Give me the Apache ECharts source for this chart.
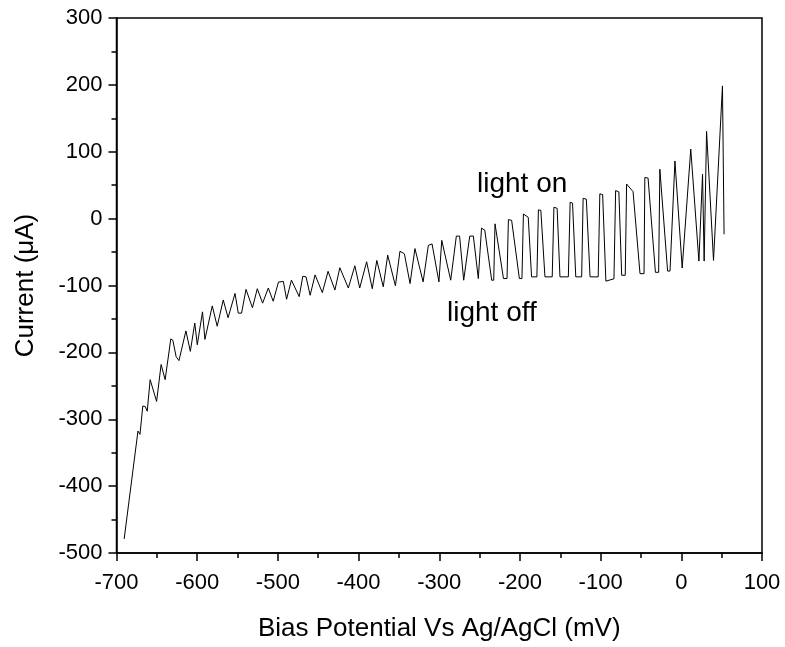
<!DOCTYPE html>
<html>
<head>
<meta charset="utf-8">
<script src="https://cdn.jsdelivr.net/npm/echarts@6/dist/echarts.min.js"></script>
<style>
html,body{margin:0;padding:0;background:#fff;}
#chart{width:785px;height:647px;}
</style>
</head>
<body>
<div id="chart"></div>
<script>
// bias potential (mV) and photocurrent (uA)
var potential = [
  -690.5, -673.4, -670.9, -667.4, -664.4, -661.9, -658.3, -650.3, -644.7, -639.7,
  -632.7, -630.2, -626.1, -622.6, -614.0, -608.5, -603.0, -599.9, -593.4, -590.4,
  -581.3, -575.2, -567.7, -561.7, -553.1, -549.1, -545.0, -539.5, -531.5, -525.5,
  -518.9, -511.9, -505.8, -499.3, -493.2, -489.2, -483.2, -473.6, -469.1, -465.1,
  -460.0, -453.9, -444.9, -437.8, -429.3, -423.2, -412.7, -404.6, -398.6, -390.0,
  -383.0, -377.4, -369.4, -363.9, -354.3, -348.7, -343.2, -336.2, -330.1, -320.0,
  -313.5, -308.9, -300.4, -296.9, -285.8, -278.8, -274.8, -269.7, -262.2, -257.7,
  -251.6, -247.6, -243.6, -235.0, -232.5, -230.9, -220.4, -216.0, -214.3, -210.3,
  -200.7, -197.5, -195.7, -189.7, -185.6, -179.0, -177.1, -174.1, -169.0, -160.0,
  -157.9, -153.9, -150.4, -140.0, -137.8, -134.8, -130.8, -123.5, -121.7, -117.7,
  -113.1, -103.0, -101.0, -97.5, -93.5, -83.5, -81.4, -77.4, -73.9, -69.5,
  -67.8, -59.8, -51.2, -46.2, -45.2, -41.2, -32.1, -28.1, -26.6, -17.0,
  -14.0, -7.9, 1.1, 11.7, 21.8, 26.3, 28.3, 31.3, 39.9, 41.4,
  51.0, 53.0
];
var current = [
  -479, -317.7, -322.6, -280.2, -281, -288, -240.8, -273.3, -218.2, -240.8,
  -179.8, -181.8, -206.4, -212.3, -167.9, -198.5, -156.1, -188.6, -139.4, -180.6,
  -130.5, -160.9, -121.6, -148.2, -111.8, -141.3, -141.3, -105.8, -133.3, -104.8,
  -126.4, -103.8, -123.5, -94.9, -93.9, -120.6, -91.9, -116.6, -86.1, -87.1,
  -114.6, -84.2, -110.7, -78.8, -106.8, -73.4, -103.8, -70.5, -103.8, -64.5,
  -104.8, -62.5, -101.9, -54.6, -100.4, -48.7, -52.6, -97.1, -44.8, -94.6,
  -39.9, -37.9, -94.6, -32.5, -92.1, -26.1, -26.1, -92.1, -26.1, -26.1,
  -89.6, -14.2, -17.2, -92.1, -92.1, -7.8, -89.6, -89.6, -1.5, -2.5,
  -89.6, -89.6, 6.9, 2, -87.1, -87.1, 13.1, 12.4, -87.1, -87.1,
  17, 15.4, -87.1, -87.1, 24.5, 23.2, -87.1, -87.1, 30.4, 29.1,
  -87.1, -87.1, 37, 36, -93.5, -90, 42, 40, -84.7, -84.7,
  51.7, 40.4, -82.3, -82.3, 61.5, 60.6, -80.3, -80.3, 73.9, -78.4,
  -78.4, 86.2, -73.9, 104, -63.5, 66.5, -63.5, 130.6, -62.5, -62.5,
  198.5, -23.4
];

var xTicks = {min: -700, max: 100, step: 100};
var yTicks = {min: -500, max: 300, step: 100};

var FONT = '"Liberation Sans", Arial, sans-serif';

var pts = [];
for (var i = 0; i < potential.length; i++) {
  pts.push([potential[i], current[i]]);
}

var myChart = echarts.init(document.getElementById('chart'), null, {renderer: 'canvas'});

var axisCommon = function() {
  return {
    type: 'value',
    axisLine: {show: true, onZero: false, lineStyle: {color: '#000', width: 1.5}},
    axisTick: {show: true, inside: false, length: 8, lineStyle: {color: '#000', width: 1.5}},
    minorTick: {show: true, splitNumber: 2, length: 5, lineStyle: {color: '#000', width: 1.5}},
    splitLine: {show: false},
    nameLocation: 'middle',
    nameTextStyle: {color: '#000', fontFamily: FONT, fontSize: 26}
  };
};

var xAxis = axisCommon();
xAxis.min = xTicks.min;
xAxis.max = xTicks.max;
xAxis.interval = xTicks.step;
xAxis.name = 'Bias Potential Vs Ag/AgCl (mV)';
xAxis.nameGap = 63;
xAxis.axisLabel = {color: '#000', fontFamily: FONT, fontSize: 22, margin: 19};

var yAxis = axisCommon();
yAxis.min = yTicks.min;
yAxis.max = yTicks.max;
yAxis.interval = yTicks.step;
yAxis.name = 'Current (\u03bcA)';
yAxis.nameGap = 78;
yAxis.axisLabel = {color: '#000', fontFamily: FONT, fontSize: 22, margin: 14};

var option = {
  backgroundColor: '#fff',
  animation: false,
  grid: {
    left: 116.5, right: 23, top: 18, bottom: 91,
    show: true, borderColor: '#000', borderWidth: 1.5, backgroundColor: 'transparent'
  },
  xAxis: xAxis,
  yAxis: yAxis,
  series: [{
    type: 'line',
    data: pts,
    showSymbol: false,
    symbol: 'none',
    lineStyle: {color: '#000', width: 1},
    z: 3
  }],
  graphic: [
    {type: 'text', left: 477, top: 170, style: {text: 'light on', fill: '#000', font: '28px ' + FONT}},
    {type: 'text', left: 447, top: 299, style: {text: 'light off', fill: '#000', font: '28px ' + FONT}}
  ]
};

myChart.setOption(option);
</script>
</body>
</html>
